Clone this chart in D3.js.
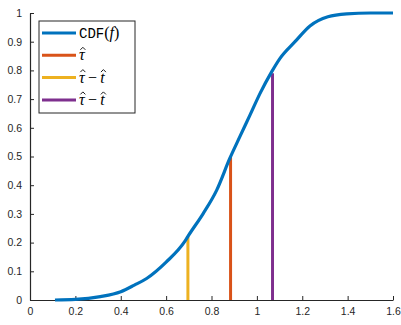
<!DOCTYPE html>
<html>
<head>
<meta charset="utf-8">
<script src="https://cdn.jsdelivr.net/npm/d3@7"></script>
<style>
  body { margin: 0; background: #fff; }
  .tick text { font-family: "Liberation Sans", Arial, sans-serif; font-size: 10.5px; fill: #262626; }
  .domain, .tick line { stroke: #262626; }
</style>
</head>
<body>
<div id="vis"></div>
<script>
// chart size
const FRAME_WIDTH = 401;
const FRAME_HEIGHT = 325;
const MARGINS = {left: 30, right: 8, top: 13, bottom: 25};

// CDF curve
const cdfX = [0.11, 0.2, 0.31, 0.4, 0.46, 0.514, 0.6, 0.683, 0.698, 0.764, 0.823, 0.881, 0.925, 0.97, 1.014, 1.065, 1.102, 1.168, 1.234, 1.313, 1.396, 1.5, 1.6];
const cdfY = [0, 0.002, 0.012, 0.029, 0.052, 0.075, 0.132, 0.205, 0.224, 0.302, 0.383, 0.494, 0.569, 0.645, 0.72, 0.795, 0.842, 0.9, 0.955, 0.987, 0.997, 1.0, 1.0];

// vertical markers
const markX = [0.884, 0.696, 1.069];
const markY = [0.5, 0.223, 0.79];
const markColors = ['#D95319', '#EDB120', '#7E2F8E'];

const xTicks = [0, 0.2, 0.4, 0.6, 0.8, 1, 1.2, 1.4, 1.6];
const yTicks = [0, 0.1, 0.2, 0.3, 0.4, 0.5, 0.6, 0.7, 0.8, 0.9, 1];

const VIS_WIDTH = FRAME_WIDTH - MARGINS.left - MARGINS.right;
const VIS_HEIGHT = FRAME_HEIGHT - MARGINS.top - MARGINS.bottom;

const FRAME = d3.select('#vis')
    .append('svg')
        .attr('width', FRAME_WIDTH)
        .attr('height', FRAME_HEIGHT);

const X_SCALE = d3.scaleLinear().domain([0, 1.6]).range([0, VIS_WIDTH]);
const Y_SCALE = d3.scaleLinear().domain([0, 1]).range([VIS_HEIGHT, 0]);

const plot = FRAME.append('g')
    .attr('transform', 'translate(' + MARGINS.left + ',' + MARGINS.top + ')');

// axes, ticks point inward like matlab
plot.append('g')
    .attr('transform', 'translate(0,' + VIS_HEIGHT + ')')
    .call(d3.axisBottom(X_SCALE).tickValues(xTicks).tickSize(-4).tickSizeOuter(0).tickPadding(8).tickFormat(d3.format('')))
    .call(g => g.select('.domain').attr('stroke-width', 1.2));

plot.append('g')
    .call(d3.axisLeft(Y_SCALE).tickValues(yTicks).tickSize(-4).tickSizeOuter(0).tickPadding(8).tickFormat(d3.format('')))
    .call(g => g.select('.domain').attr('stroke-width', 1.2));

// marker lines
plot.selectAll('.mark')
    .data(markX)
    .enter()
    .append('line')
    .attr('x1', d => X_SCALE(d))
    .attr('x2', d => X_SCALE(d))
    .attr('y1', Y_SCALE(0))
    .attr('y2', (d, i) => Y_SCALE(markY[i]))
    .attr('stroke', (d, i) => markColors[i])
    .attr('stroke-width', 3);

// the cdf
const line = d3.line()
    .curve(d3.curveMonotoneX)
    .x(i => X_SCALE(cdfX[i]))
    .y(i => Y_SCALE(cdfY[i]));

plot.append('path')
    .attr('d', line(d3.range(cdfX.length)))
    .attr('fill', 'none')
    .attr('stroke', '#0072BD')
    .attr('stroke-width', 3.2)
    .attr('stroke-linejoin', 'round');

// legend
const legend = FRAME.append('g').attr('transform', 'translate(39,21)');
legend.append('rect')
    .attr('width', 96).attr('height', 92)
    .attr('fill', '#fff').attr('stroke', '#262626').attr('stroke-width', 1);

const legColors = ['#0072BD', '#D95319', '#EDB120', '#7E2F8E'];
// each label is a list of pieces: [text, style, hat]
const legLabels = [
    [['CDF', 'mono'], ['(', 'roman'], ['f', 'italic'], [')', 'roman']],
    [['τ', 'italic', true]],
    [['τ', 'italic', true], ['\u2009−\u2009', 'roman'], ['t', 'italic', true]],
    [['τ', 'italic', true], ['\u2009−\u2009', 'roman'], ['t', 'italic', true]]
];
const SERIF = '"Liberation Serif", "DejaVu Serif", serif';
const MONO = '"Liberation Mono", "DejaVu Sans Mono", monospace';

legColors.forEach((c, i) => {
    const row = legend.append('g')
        .attr('transform', 'translate(0,' + (12 + i * 22.3) + ')');
    row.append('line')
        .attr('x1', 3).attr('x2', 37)
        .attr('stroke', c)
        .attr('stroke-width', 3);
    let x = 40;
    legLabels[i].forEach(p => {
        const t = row.append('text')
            .attr('x', x)
            .attr('y', 5)
            .style('font-family', p[1] === 'mono' ? MONO : SERIF)
            .style('font-size', p[1] === 'mono' ? '14px' : '16px')
            .style('font-style', p[1] === 'italic' ? 'italic' : 'normal')
            .style('fill', '#000')
            .text(p[0]);
        const w = t.node().getComputedTextLength();
        if (p[2]) {
            // little hat above the letter
            const cx = x + w / 2 + 1;
            row.append('path')
                .attr('d', 'M' + (cx - 2.5) + ',-5.5 L' + cx + ',-8 L' + (cx + 2.5) + ',-5.5')
                .attr('fill', 'none')
                .attr('stroke', '#000')
                .attr('stroke-width', 0.9);
        }
        x += w;
    });
});
</script>
</body>
</html>
